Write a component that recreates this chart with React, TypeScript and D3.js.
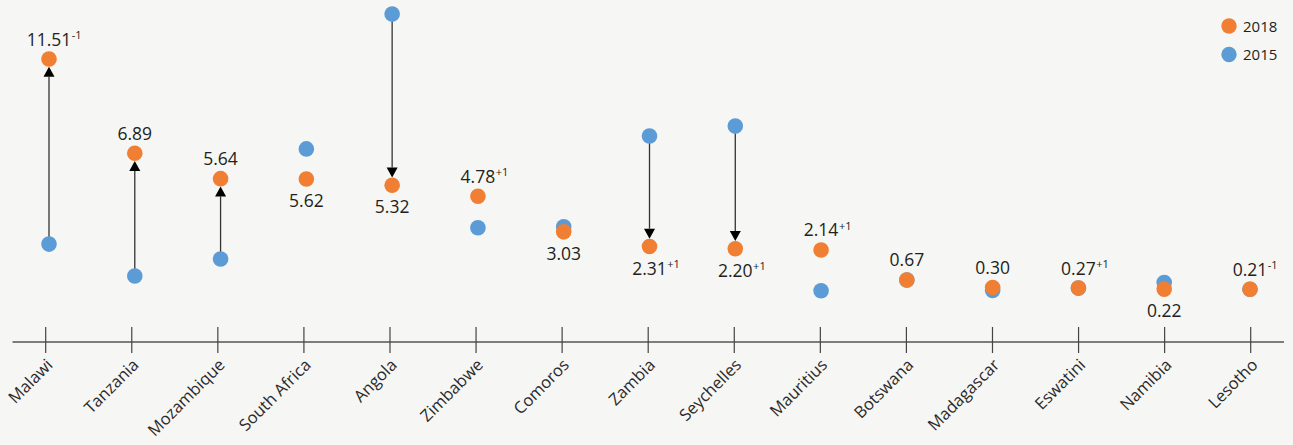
import React, { useEffect, useRef } from "react";
import * as d3 from "d3";

const countries = ["Malawi", "Tanzania", "Mozambique", "South Africa", "Angola", "Zimbabwe", "Comoros", "Zambia", "Seychelles", "Mauritius", "Botswana", "Madagascar", "Eswatini", "Namibia", "Lesotho"];
const values2018 = [11.51, 6.89, 5.64, 5.62, 5.32, 4.78, 3.03, 2.31, 2.2, 2.14, 0.67, 0.3, 0.27, 0.22, 0.21];
const values2015 = [2.43, 0.86, 1.7, 7.1, 13.72, 3.23, 3.28, 7.73, 8.22, 0.14, 0.67, 0.15, 0.27, 0.54, 0.21];
const superscripts = ["-1", "", "", "", "", "+1", "", "+1", "+1", "+1", "", "", "+1", "", "-1"];
const labelPlacement = ["above", "above", "above", "below", "below", "above", "below", "below", "below", "above", "above", "above", "above", "below", "above"];
const hasArrow = [true, true, true, false, true, false, false, true, true, false, false, false, false, false, false];
const legendItems = ["2018", "2015"];

const W = 1293;
const H = 445;
const ORANGE = "#f07f33";
const BLUE = "#5b9bd6";
const FONT = "'Open Sans', 'Noto Sans', sans-serif";

export default function App() {
  const ref = useRef<SVGSVGElement | null>(null);

  useEffect(() => {
    const svg = d3.select(ref.current);
    svg.selectAll("*").remove();

    const tickX = d3.scalePoint<string>().domain(countries).range([45.7, 1250.7]);
    const dotX = d3.scalePoint<string>().domain(countries).range([49, 1250]);
    const y = d3.scaleLinear().domain([0, 14]).range([293.6, 293.6 - 14 * 20.38]);
    const r = 7.8;
    const axisY = 342;

    svg.append("rect").attr("width", W).attr("height", H).attr("fill", "#f6f6f4");

    // axis
    svg.append("line").attr("x1", 12.5).attr("x2", 1284).attr("y1", axisY).attr("y2", axisY)
      .attr("stroke", "#555").attr("stroke-width", 1.4);
    const ticks = svg.append("g");
    countries.forEach((c) => {
      const tx = tickX(c)!;
      ticks.append("line").attr("x1", tx).attr("x2", tx).attr("y1", 327).attr("y2", 353)
        .attr("stroke", "#444").attr("stroke-width", 1.2);
      ticks.append("text")
        .attr("transform", `translate(${tx + 8},${366}) rotate(-45)`)
        .attr("text-anchor", "end")
        .attr("font-family", FONT)
        .attr("font-size", 16.5)
        .attr("fill", "#2a2a2a")
        .text(c);
    });

    // arrows
    const g = svg.append("g");
    countries.forEach((c, i) => {
      if (!hasArrow[i]) return;
      const cx = dotX(c)!;
      const y15 = y(values2015[i]);
      const y18 = y(values2018[i]);
      const dir = y18 < y15 ? -1 : 1; // -1 means going up
      const tip = y18 - dir * r;
      const base = tip - dir * 10;
      g.append("line").attr("x1", cx).attr("x2", cx).attr("y1", y15).attr("y2", base)
        .attr("stroke", "#333").attr("stroke-width", 1.3);
      g.append("path")
        .attr("d", `M${cx},${tip} L${cx - 5.5},${base} L${cx + 5.5},${base} Z`)
        .attr("fill", "#000");
    });

    // dots
    countries.forEach((c, i) => {
      g.append("circle").attr("cx", dotX(c)!).attr("cy", y(values2015[i])).attr("r", r).attr("fill", BLUE);
    });
    countries.forEach((c, i) => {
      g.append("circle").attr("cx", dotX(c)!).attr("cy", y(values2018[i])).attr("r", r).attr("fill", ORANGE);
    });

    // labels
    countries.forEach((c, i) => {
      const cx = dotX(c)!;
      const cy = y(values2018[i]);
      const by = labelPlacement[i] === "above" ? cy - 13.5 : cy + 28;
      const t = g.append("text")
        .attr("x", cx).attr("y", by)
        .attr("text-anchor", "middle")
        .attr("font-family", FONT)
        .attr("font-size", 17.5)
        .attr("fill", "#231f20")
        .text(values2018[i].toFixed(2));
      if (superscripts[i]) {
        const w = (t.node() as SVGTextElement).getComputedTextLength();
        g.append("text")
          .attr("x", cx + w / 2 + 0.5).attr("y", by - 6.5)
          .attr("font-family", FONT)
          .attr("font-size", 11)
          .attr("fill", "#231f20")
          .text(superscripts[i]);
      }
    });

    // legend
    const legendColors = [ORANGE, BLUE];
    legendItems.forEach((l, i) => {
      const ly = 26 + i * 28.5;
      svg.append("circle").attr("cx", 1229).attr("cy", ly).attr("r", 7.7).attr("fill", legendColors[i]);
      svg.append("text").attr("x", 1243).attr("y", ly + 5.5)
        .attr("font-family", FONT).attr("font-size", 15).attr("fill", "#231f20").text(l);
    });
  }, []);

  return (
    <div style={{ position: "absolute", left: 0, top: 0, width: W, height: H }}>
      <svg ref={ref} width={W} height={H} style={{ display: "block" }} />
    </div>
  );
}
